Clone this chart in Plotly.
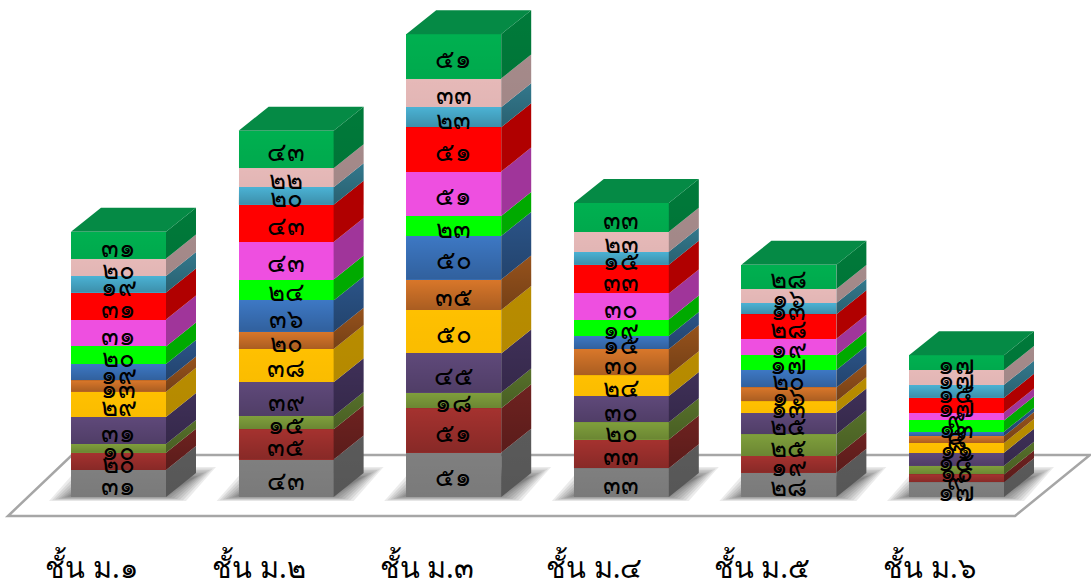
import plotly.graph_objects as go

categories = ["ชั้น ม.๑", "ชั้น ม.๒", "ชั้น ม.๓", "ชั้น ม.๔", "ชั้น ม.๕", "ชั้น ม.๖"]
s01 = [31, 43, 51, 33, 28, 17]
s02 = [20, 35, 51, 33, 19, 9]
s03 = [10, 15, 18, 20, 25, 10]
s04 = [31, 39, 45, 30, 25, 15]
s05 = [29, 38, 50, 24, 13, 11]
s06 = [13, 20, 35, 30, 16, 8]
s07 = [19, 36, 50, 15, 20, 5]
s08 = [20, 24, 23, 19, 17, 13]
s09 = [31, 43, 51, 30, 19, 9]
s10 = [31, 43, 51, 33, 28, 17]
s11 = [19, 20, 23, 15, 13, 15]
s12 = [20, 22, 33, 23, 16, 17]
s13 = [31, 43, 51, 33, 28, 17]
series = [s01, s02, s03, s04, s05, s06, s07, s08, s09, s10, s11, s12, s13]
front = ["#7f7f7f", "#a5322f", "#7f9f3c", "#5f497a", "#ffc000", "#d9772a", "#3d78c4",
         "#00ff00", "#ee4fe0", "#ff0000", "#4bb2d4", "#e6b9b8", "#00b050"]
side = ["#5a5a5a", "#6e2220", "#56702a", "#3f3058", "#b88c00", "#96521c", "#2b5488",
        "#00aa00", "#a0359a", "#b00000", "#33788c", "#a58a8a", "#007a3a"]
shade = [0.04, 0.18, 0.16, 0.16, 0.02, 0.22, 0.2, 0.0, 0.0, 0.0, 0.2, 0.02, 0.04]
thai = str.maketrans("0123456789", "๐๑๒๓๔๕๖๗๘๙")

W, H = 1091, 586
PX_X = 167.6           # pixels per category
PX_Y = 0.87            # pixels per student
X0, Y0 = 118.5, 497    # pixel position of category 0 at value 0
BOT = 548              # bottom of plot area, tick labels below
BW = 95 / PX_X
DX, DY = 30 / PX_X, 24 / PX_Y
to_x = lambda p: (p - X0) / PX_X
to_y = lambda p: (Y0 - p) / PX_Y

fig = go.Figure()
xs = list(range(len(categories)))

# front faces
for k, vals in enumerate(series):
    fig.add_bar(x=xs, y=vals, width=BW, marker=dict(color=front[k], line_width=0),
                hoverinfo="skip", showlegend=False)


def poly(x, y, color=None, grad=None):
    kw = dict(x=x + x[:1], y=y + y[:1], mode="lines", line_width=0, fill="toself",
              hoverinfo="skip", showlegend=False)
    if grad:
        kw["fillgradient"] = dict(type="vertical", colorscale=[[0, grad[0]], [1, grad[1]]])
    else:
        kw["fillcolor"] = color
    fig.add_trace(go.Scatter(**kw))


tx, ty, tt = [], [], []
for i in xs:
    b = 0
    x1 = i + BW / 2
    x0 = i - BW / 2
    for k, vals in enumerate(series):
        v = vals[i]
        poly([x1, x1 + DX, x1 + DX, x1], [b, b + DY, b + v + DY, b + v], color=side[k])
        poly([x1, x1 + DX, x1 + DX, x1], [b, b + DY, b + v + DY, b + v],
             grad=(f"rgba(0,0,0,{shade[k]})", "rgba(0,0,0,0)"))
        if shade[k]:
            poly([x0, x1, x1, x0], [b, b, b + v, b + v],
                 grad=(f"rgba(0,0,0,{shade[k]})", "rgba(0,0,0,0)"))
        tx.append(i)
        ty.append(b + v / 2 - 5 / PX_Y)
        tt.append(str(v).translate(thai))
        b += v
    poly([x0, x1, x1 + DX, x0 + DX], [b, b, b + DY, b + DY], color="#058a45")

fig.add_trace(go.Scatter(x=tx, y=ty, text=tt, mode="text", hoverinfo="skip", showlegend=False,
                         textfont=dict(family="Noto Sans, DejaVu Sans", size=26, color="black")))

# floor and shadows
shapes = []
fx = [to_x(p) for p in (8, 1015, 1090, 72)]
fy = [to_y(p) for p in (516, 516, 455, 455)]
shapes.append(dict(type="path", layer="below", xref="x", yref="y",
                   path="M" + " L".join(f"{a},{b}" for a, b in zip(fx, fy)) + " Z",
                   fillcolor="white", line=dict(color="#a6a6a6", width=2.5)))
for i in xs:
    for g in range(8):
        e = g * 3
        x0 = i - BW / 2 - (22 - e) / PX_X
        x1 = i + BW / 2 + (50 - e) / PX_X
        yb = -(4 - g * 0.7) / PX_Y
        yt = (30 - g * 1.5) / PX_Y
        shift = 30 / PX_X
        path = f"M{x0},{yb} L{x1 - shift},{yb} L{x1},{yt} L{x0 + shift},{yt} Z"
        shapes.append(dict(type="path", layer="below", xref="x", yref="y", path=path,
                           fillcolor="rgba(0,0,0,0.08)", line_width=0))

fig.update_layout(
    width=W, height=H, barmode="stack", bargap=0, plot_bgcolor="rgba(0,0,0,0)", paper_bgcolor="white",
    margin=dict(l=0, r=0, t=0, b=H - BOT), shapes=shapes, showlegend=False,
    xaxis=dict(range=[to_x(0), to_x(W)], showgrid=False, zeroline=False, showline=False,
               automargin=False,
               tickmode="array", tickvals=[i - 27 / PX_X for i in xs], ticktext=categories,
               ticks="", fixedrange=True,
               tickfont=dict(family="Noto Sans, DejaVu Sans", size=29, color="black")),
    yaxis=dict(range=[to_y(BOT), to_y(0)], visible=False, fixedrange=True),
)
fig.write_html("out.html", post_script="document.body.style.margin='0';document.body.style.overflow='hidden';",
               config=dict(displayModeBar=False))
